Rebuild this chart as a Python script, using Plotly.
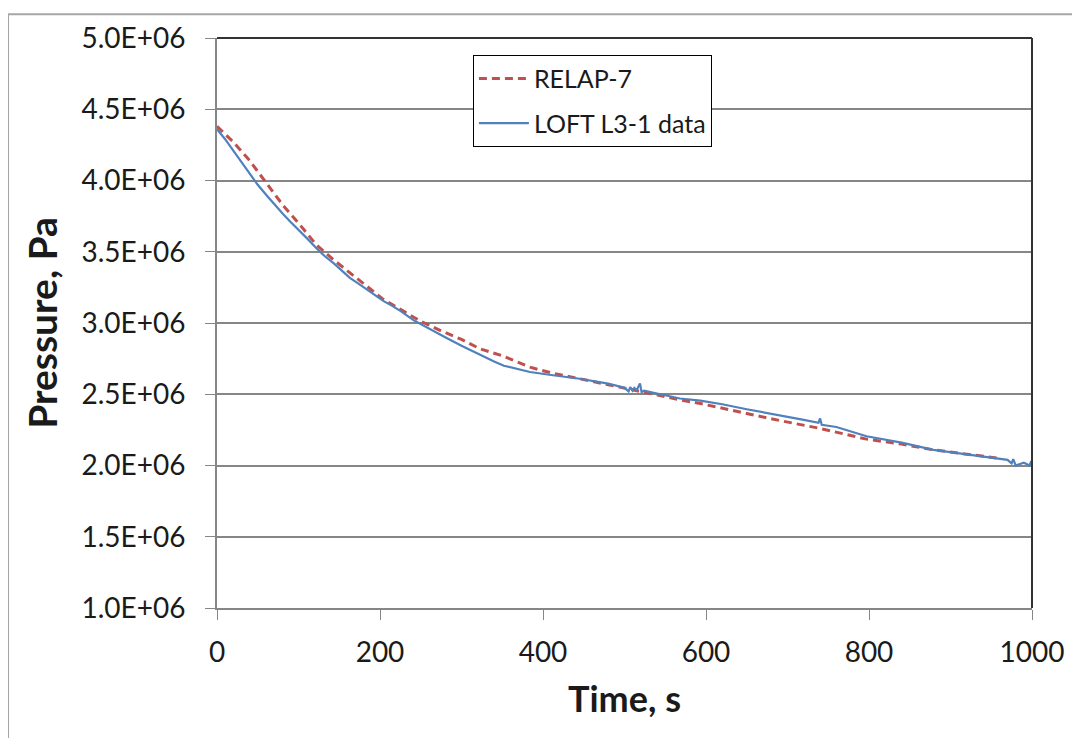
import plotly.graph_objects as go

# RELAP-7 calculation (time in s, pressure in Pa)
relap_time = [0, 20, 40, 61, 81, 102, 122, 143, 163, 184, 204, 225, 249, 275,
              300, 323, 350, 384, 410, 445, 480, 519, 545, 568, 593, 620, 654,
              691, 740, 797, 840, 879, 920, 960]
relap_pressure = [4.38e6, 4.27e6, 4.14e6, 3.977e6, 3.826e6, 3.687e6, 3.548e6,
                  3.444e6, 3.351e6, 3.259e6, 3.166e6, 3.096e6, 3.015e6, 2.945e6,
                  2.885e6, 2.818e6, 2.77e6, 2.69e6, 2.65e6, 2.609e6, 2.565e6,
                  2.52e6, 2.49e6, 2.46e6, 2.435e6, 2.40e6, 2.36e6, 2.315e6,
                  2.26e6, 2.185e6, 2.15e6, 2.11e6, 2.08e6, 2.05e6]

# LOFT L3-1 measured data
loft_time = [0, 10, 20, 30, 40, 50, 61, 70, 81, 90, 102, 112, 122, 132, 143,
             153, 163, 174, 184, 194, 204, 215, 225, 241, 260, 280, 300, 323,
             340, 352, 365, 384, 410, 445, 480, 500, 505, 507, 510, 512, 515,
             519, 521, 524, 540, 568, 593, 620, 650, 680, 691, 720, 738, 740,
             742, 760, 797, 840, 879, 920, 948, 970, 975, 977, 980, 990, 997,
             999, 1000]
loft_pressure = [4.36e6, 4.29e6, 4.21e6, 4.13e6, 4.05e6, 3.97e6, 3.895e6,
                 3.835e6, 3.765e6, 3.71e6, 3.645e6, 3.585e6, 3.525e6, 3.47e6,
                 3.42e6, 3.37e6, 3.317e6, 3.275e6, 3.235e6, 3.195e6, 3.155e6,
                 3.12e6, 3.085e6, 3.02e6, 2.96e6, 2.90e6, 2.84e6, 2.774e6,
                 2.73e6, 2.70e6, 2.68e6, 2.656e6, 2.635e6, 2.609e6, 2.575e6,
                 2.545e6, 2.52e6, 2.55e6, 2.525e6, 2.545e6, 2.53e6, 2.575e6,
                 2.515e6, 2.525e6, 2.505e6, 2.47e6, 2.455e6, 2.43e6, 2.395e6,
                 2.365e6, 2.354e6, 2.32e6, 2.30e6, 2.33e6, 2.285e6, 2.27e6,
                 2.205e6, 2.16e6, 2.11e6, 2.08e6, 2.057e6, 2.04e6, 2.015e6,
                 2.045e6, 2.0e6, 2.02e6, 2.0e6, 2.03e6, 2.0e6]

y_tick_vals = [1.0e6, 1.5e6, 2.0e6, 2.5e6, 3.0e6, 3.5e6, 4.0e6, 4.5e6, 5.0e6]
y_tick_text = ["1.0E+06", "1.5E+06", "2.0E+06", "2.5E+06", "3.0E+06",
               "3.5E+06", "4.0E+06", "4.5E+06", "5.0E+06"]
x_tick_vals = [0, 200, 400, 600, 800, 1000]

FONT = "Lato"
TEXT = "#1a1a1a"
AXIS_GRAY = "#868686"

fig = go.Figure()

fig.add_trace(
    go.Scatter(
        x=relap_time,
        y=relap_pressure,
        mode="lines",
        name="RELAP-7",
        legendgroup="relap",
        line=dict(color="#C0504D", width=3, dash="8px,5px"),
    )
)

fig.add_trace(
    go.Scatter(
        x=loft_time,
        y=loft_pressure,
        mode="lines",
        name="LOFT L3-1 data",
        legendgroup="loft",
        line=dict(color="#4F81BD", width=2.2),
    )
)

fig.update_xaxes(
    range=[0, 1000],
    tickvals=x_tick_vals,
    ticks="outside",
    ticklen=10,
    tickcolor=AXIS_GRAY,
    ticklabelstandoff=8,
    showline=True,
    linecolor=AXIS_GRAY,
    linewidth=2,
    showgrid=False,
    zeroline=False,
    tickfont=dict(family=FONT, size=28, color=TEXT),
    title=dict(text="<b>Time, s</b>", font=dict(family=FONT, size=36, color=TEXT),
               standoff=20),
)

fig.update_yaxes(
    range=[1.0e6, 5.0e6],
    tickvals=y_tick_vals,
    ticktext=y_tick_text,
    ticks="outside",
    ticklen=10,
    tickcolor=AXIS_GRAY,
    ticklabelstandoff=14,
    showline=True,
    linecolor=AXIS_GRAY,
    linewidth=2,
    showgrid=True,
    gridcolor=AXIS_GRAY,
    gridwidth=1.5,
    zeroline=False,
    tickfont=dict(family=FONT, size=28, color=TEXT),
    title=dict(text="<b>Pressure, Pa</b>", font=dict(family=FONT, size=39, color=TEXT),
               standoff=12),
)

# Dark frame on top and right of the plot area, light border round the chart
fig.add_shape(type="line", xref="paper", yref="paper", x0=0, x1=1, y0=1, y1=1,
              line=dict(color="#333333", width=2))
fig.add_shape(type="line", xref="paper", yref="paper", x0=1, x1=1, y0=0, y1=1,
              line=dict(color="#333333", width=2))
fig.add_shape(type="line", xref="paper", yref="paper", x0=-0.2564, x1=1.07,
              y0=1.0417, y1=1.0417, line=dict(color="#a6a6a6", width=2))
fig.add_shape(type="line", xref="paper", yref="paper", x0=-0.2564, x1=-0.2564,
              y0=-0.25, y1=1.0417, line=dict(color="#a6a6a6", width=2))

fig.update_layout(
    width=1080,
    height=738,
    margin=dict(l=209, r=56, t=25, b=138),
    paper_bgcolor="white",
    plot_bgcolor="white",
    font=dict(family=FONT),
    legend=dict(
        x=0.314,
        y=0.9704,
        xanchor="left",
        yanchor="top",
        bordercolor="black",
        borderwidth=1,
        bgcolor="white",
        tracegroupgap=9,
        itemwidth=50,
        font=dict(family=FONT, size=25, color=TEXT),
    ),
    showlegend=True,
)

fig.write_html("out.html")
